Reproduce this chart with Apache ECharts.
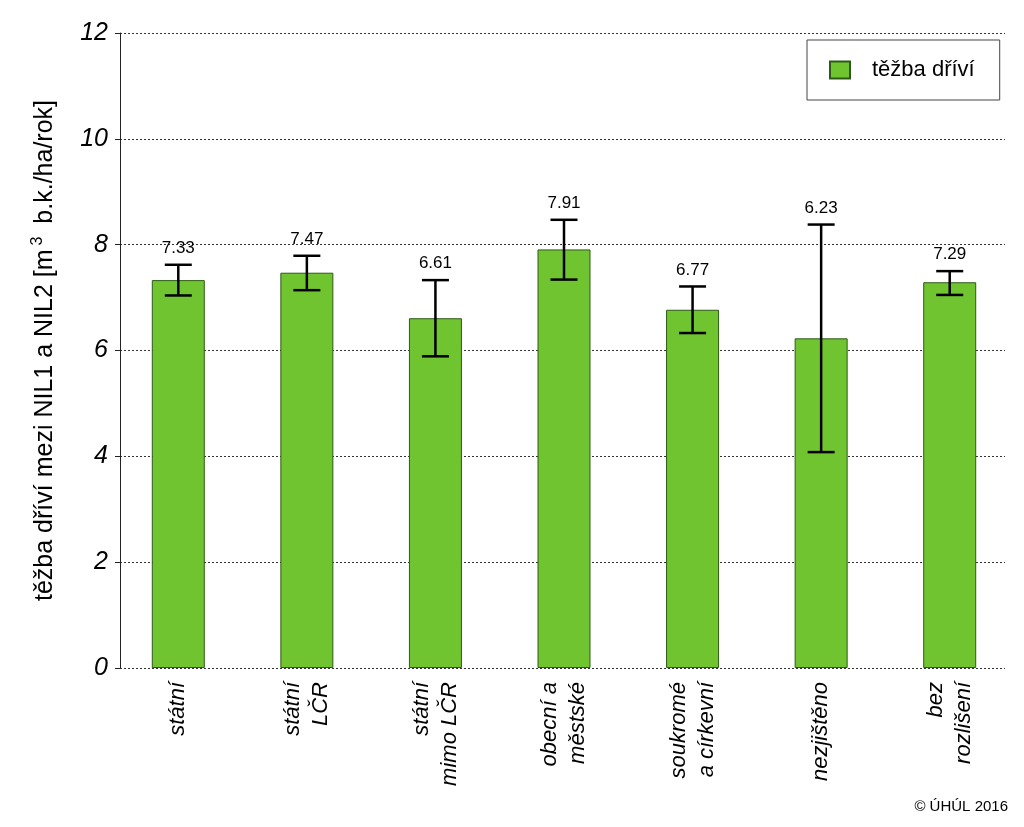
<!DOCTYPE html>
<html>
<head>
<meta charset="utf-8">
<script src="https://cdn.jsdelivr.net/npm/echarts@6/dist/echarts.min.js"></script>
<style>html,body{margin:0;padding:0;background:#fff}#c{width:1024px;height:827px}</style>
</head>
<body>
<div id="c"></div>
<script>
const categories = ['státní', 'státní\nLČR', 'státní\nmimo LČR', 'obecní a\nměstské', 'soukromé\na církevní', 'nezjištěno', 'bez\nrozlišení'];
const values = [7.33, 7.47, 6.61, 7.91, 6.77, 6.23, 7.29];
const errLow = [7.04, 7.14, 5.89, 7.34, 6.33, 4.08, 7.05];
const errHigh = [7.62, 7.79, 7.33, 8.47, 7.21, 8.38, 7.50];
const yTicks = [0, 2, 4, 6, 8, 10, 12];
const seriesName = 'těžba dříví';

const chart = echarts.init(document.getElementById('c'));
const font = '"Liberation Sans", Arial, sans-serif';
const errData = categories.map((c, i) => [i, errLow[i], errHigh[i], values[i]]);

chart.setOption({
  animation: false,
  backgroundColor: '#fff',
  textStyle: {fontFamily: font},
  grid: [
    {left: 120, right: 19, top: 33, bottom: 159},
    {left: 114, right: 10, top: 33, bottom: 159}
  ],
  legend: {
    data: [seriesName],
    left: 807, top: 40,
    padding: [19, 25, 19, 22],
    itemWidth: 20, itemHeight: 17,
    icon: 'rect',
    borderColor: '#444', borderWidth: 1,
    textStyle: {fontSize: 22, color: '#000', fontFamily: font, padding: [0, 0, 0, 17]}
  },
  xAxis: [
    {gridIndex: 0, type: 'value', min: 0, max: 1, show: false},
    {gridIndex: 1, type: 'category', data: categories,
     axisLine: {show: false}, axisTick: {show: false},
     axisLabel: {rotate: 90, fontSize: 22, fontStyle: 'italic', color: '#000', margin: 14, lineHeight: 28, fontFamily: font}}
  ],
  yAxis: [
    {gridIndex: 0, type: 'value', min: yTicks[0], max: yTicks[yTicks.length - 1], interval: 2,
     name: '{a|těžba dříví mezi NIL1 a NIL2 [m}{s|3}{a| b.k./ha/rok]}',
     nameLocation: 'middle', nameGap: 60,
     nameTextStyle: {rich: {
       a: {fontSize: 25, color: '#000', fontFamily: font, lineHeight: 30},
       s: {fontSize: 16, color: '#000', fontFamily: font, verticalAlign: 'top', padding: [0, 6, 12, 4], lineHeight: 30}
     }},
     axisLine: {show: true, lineStyle: {color: '#222', width: 1}},
     axisTick: {show: true, length: 5, lineStyle: {color: '#222'}},
     axisLabel: {fontSize: 25, fontStyle: 'italic', color: '#000', margin: 12, fontFamily: font},
     splitLine: {show: true, lineStyle: {color: '#333', type: [2, 2], width: 1}}
    },
    {gridIndex: 1, type: 'value', min: 0, max: 12, show: false}
  ],
  series: [
    {
      name: seriesName, type: 'bar', xAxisIndex: 1, yAxisIndex: 1,
      data: values, barWidth: 53,
      itemStyle: {color: '#6fc42f', borderColor: '#2e5a17', borderWidth: 1}
    },
    {
      type: 'custom', xAxisIndex: 1, yAxisIndex: 1, z: 5,
      data: errData,
      renderItem: function (params, api) {
        const x = api.value(0);
        const lo = api.coord([x, api.value(1)]);
        const hi = api.coord([x, api.value(2)]);
        const hw = 13.5;
        const st = {stroke: '#000', lineWidth: 2.5};
        return {type: 'group', children: [
          {type: 'line', shape: {x1: lo[0], y1: lo[1], x2: hi[0], y2: hi[1]}, style: st},
          {type: 'line', shape: {x1: lo[0] - hw, y1: lo[1], x2: lo[0] + hw, y2: lo[1]}, style: st},
          {type: 'line', shape: {x1: hi[0] - hw, y1: hi[1], x2: hi[0] + hw, y2: hi[1]}, style: st},
          {type: 'text', style: {text: api.value(3).toFixed(2), x: hi[0], y: hi[1] - 8,
            textAlign: 'center', textVerticalAlign: 'bottom', fontSize: 17, fill: '#000', fontFamily: font}}
        ]};
      }
    }
  ],
  graphic: [
    {type: 'text', right: 16, top: 799, style: {text: '© ÚHÚL 2016', fontSize: 15, fill: '#000', fontFamily: font}}
  ]
});
</script>
</body>
</html>
